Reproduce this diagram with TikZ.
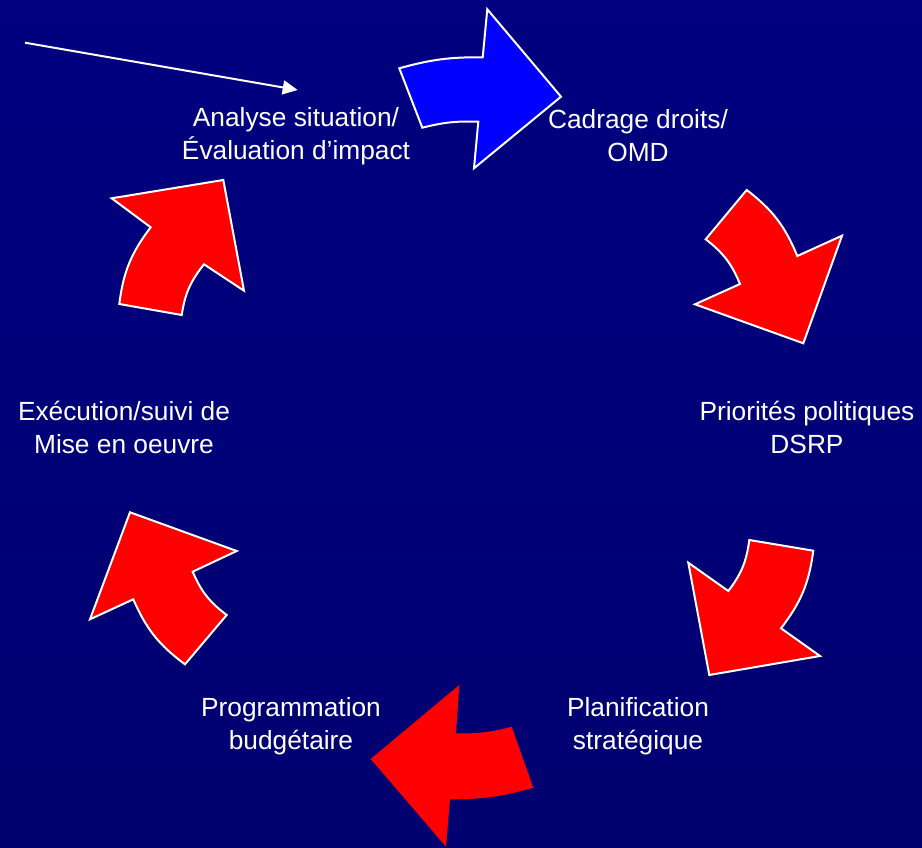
\documentclass[tikz,border=0pt]{standalone}
\usepackage{fontspec}
\setmainfont{Liberation Sans}
\usetikzlibrary{arrows.meta}
\definecolor{navybg}{RGB}{0,0,128}
\definecolor{navybot}{RGB}{0,0,112}
\definecolor{arrred}{RGB}{255,0,0}
\definecolor{arrblue}{RGB}{0,0,255}
\tikzset{
  cyclearrow/.style={fill=arrred, draw=white, line width=2pt, line join=miter},
  bluearrow/.style={fill=arrblue, draw=white, line width=2pt, line join=miter},
  plainarrow/.style={fill=arrred, draw=none},
  label/.style={text=white, align=center, font=\fontsize{26.3}{33}\selectfont, inner sep=0pt},
  pointer/.style={draw=white, line width=2pt, -{Triangle[length=15pt,width=14pt]}}
}
\begin{document}
\begin{tikzpicture}[x=1pt,y=1pt]
\useasboundingbox (0,0) rectangle (922,847);
\shade[top color=navybg, bottom color=navybot] (0,0) rectangle (922,847);
\begin{scope}
\clip (0,0) rectangle (922,847);
% blue arrow (top)
\path[bluearrow] (399.3,778.7) to[bend left=8] (482.7,789.7) -- (487.3,837.7) -- (561,750.3) -- (474,678.7) -- (478.3,725.3) to[bend right=8] (422.3,719.3) -- cycle;
% top right
\path[cyclearrow] (746.7,657) to[bend left=15] (797.3,591) -- (842,611.3) -- (803.3,503.7) -- (695,542.7) -- (740,563) to[bend right=15] (705.7,607.7) -- cycle;
% bottom right
\path[cyclearrow] (813.3,296.3) to[bend left=15] (781,218.7) -- (820,191) -- (709.3,172) -- (688.3,284.3) -- (728.3,256) to[bend right=15] (749.3,307) -- cycle;
% bottom
\path[plainarrow] (533.3,59.3) to[bend left=8] (450,47.7) -- (446,0.3) -- (370.7,88) -- (459.3,162) -- (456,113.7) to[bend right=8] (511.7,120.3) -- cycle;
% bottom left
\path[cyclearrow] (185,182.7) to[bend left=15] (133.3,247.7) -- (90,227.7) -- (130,334.7) -- (236.7,296) -- (192.7,275.3) to[bend right=15] (226.7,232) -- cycle;
% top left
\path[cyclearrow] (119.3,543) to[bend left=15] (150.7,619.7) -- (111.7,648.7) -- (223.3,667) -- (244,556.3) -- (204,582.7) to[bend right=15] (181.7,532) -- cycle;
\end{scope}
% labels
\node[label] (analyse) at (296,710.5) {Analyse situation/\\Évaluation d’impact};
\node[label] (cadrage) at (638,711.5) {Cadrage droits/\\OMD};
\node[label] (priorites) at (807,420) {Priorités politiques\\DSRP};
\node[label] (planif) at (638,120.5) {Planification\\stratégique};
\node[label] (progr) at (291,120.5) {Programmation\\budgétaire};
\node[label] (exec) at (124,420) {Exécution/suivi de\\Mise en oeuvre};
% pointer
\coordinate (ptstart) at (25,804.3);
\coordinate (ptend) at (297.7,757);
\draw[pointer] (ptstart) -- (ptend);
\end{tikzpicture}
\end{document}
